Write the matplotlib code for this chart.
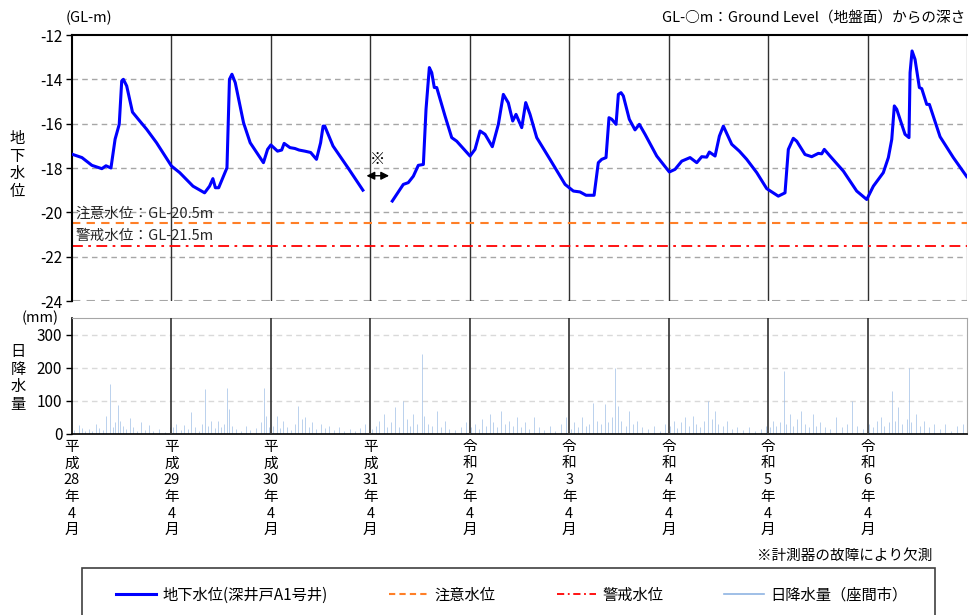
import numpy as np
import matplotlib
matplotlib.use('Agg')
import matplotlib.pyplot as plt
from matplotlib.lines import Line2D
from matplotlib.patches import Rectangle

plt.rcParams['font.family'] = ['Noto Sans CJK JP', 'DejaVu Sans']
plt.rcParams['axes.unicode_minus'] = False

# 経過月 (平成28年4月 = 0)
lvl_month_a = [0.1, 1.2, 2.4, 3.6, 4.1, 4.7, 5.2, 5.7, 6.0, 6.2, 6.6, 7.3, 8.0, 9.0, 10.2,
               12.0, 13.0, 14.6, 16.0, 16.6, 17.0, 17.3, 17.7, 18.7, 19.0, 19.3, 19.7,
               20.7, 21.5, 23.1, 23.6, 24.0, 24.4, 24.8, 25.3, 25.6, 26.3, 26.9, 27.4,
               28.1, 28.8, 29.5, 30.0, 30.3, 30.5, 31.5, 33.3, 35.1]
lvl_a = [-17.39, -17.53, -17.88, -18.03, -17.90, -18.00, -16.70, -16.03, -14.07, -14.00,
         -14.30, -15.48, -15.80, -16.25, -16.86, -17.91, -18.21, -18.82, -19.12, -18.82,
         -18.48, -18.89, -18.89, -17.99, -14.00, -13.77, -14.15, -15.96, -16.86, -17.76,
         -17.16, -16.96, -17.10, -17.24, -17.19, -16.89, -17.08, -17.12, -17.19, -17.24,
         -17.30, -17.61, -16.86, -16.11, -16.11, -17.01, -17.99, -19.00]

lvl_month_b = [38.65, 39.98, 40.58, 41.19, 41.79, 42.40, 42.72, 43.12, 43.41, 43.72, 44.01,
               45.01, 45.82, 46.42, 48.03, 48.63, 49.24, 49.84, 50.72, 51.45, 52.05, 52.65,
               53.18, 53.58, 54.27, 54.75, 55.27, 56.08, 57.68, 59.50, 60.50, 61.30, 62.03,
               63.00, 63.51, 63.92, 64.44, 64.80, 65.13, 65.65, 65.93, 66.25, 66.53, 67.25,
               67.94, 68.46, 69.15, 70.56, 72.08, 72.77, 73.58, 74.58, 75.39, 75.99, 76.59,
               76.91, 77.60, 78.12, 78.60, 79.61, 80.53, 81.42, 82.63, 83.83, 85.23, 86.04,
               86.44, 87.04, 87.45, 88.45, 89.26, 90.06, 90.47, 90.78, 91.47, 93.08, 94.69,
               95.90, 96.70, 97.90, 98.51, 98.92, 99.23, 99.52, 100.52, 101.00, 101.13,
               101.37, 101.73, 102.25, 102.54, 103.14, 103.46, 104.75, 106.35, 107.97]
lvl_b = [-19.49, -18.74, -18.66, -18.37, -17.88, -17.84, -15.35, -13.47, -13.70, -14.37,
         -14.37, -15.65, -16.63, -16.79, -17.46, -17.16, -16.33, -16.48, -17.04, -16.03,
         -14.68, -15.06, -15.88, -15.58, -16.18, -15.05, -15.58, -16.63, -17.61, -18.74,
         -19.04, -19.08, -19.23, -19.23, -17.76, -17.61, -17.53, -15.73, -15.80, -16.03,
         -14.68, -14.60, -14.75, -15.80, -16.28, -16.03, -16.48, -17.46, -18.18, -18.06,
         -17.69, -17.53, -17.76, -17.49, -17.51, -17.28, -17.46, -16.56, -16.11, -16.93,
         -17.24, -17.61, -18.21, -18.93, -19.27, -19.12, -17.16, -16.66, -16.79, -17.39,
         -17.49, -17.34, -17.36, -17.16, -17.46, -18.14, -19.04, -19.42, -18.82, -18.21,
         -17.53, -16.71, -15.20, -15.35, -16.48, -16.63, -13.70, -12.72, -13.10, -14.37,
         -14.42, -15.13, -15.13, -16.59, -17.53, -18.39]

rain_month = [0.3, 0.8, 1.2, 1.6, 2.0, 2.4, 2.9, 3.3, 3.7, 4.1, 4.6, 4.9, 5.2, 5.5, 5.8, 6.1,
              6.5, 7.0, 7.4, 7.9, 8.3, 8.8, 9.3, 9.8, 10.5, 11.2, 11.8,
              12.2, 12.6, 13.1, 13.5, 14.0, 14.4, 14.9, 15.3, 15.7, 16.0, 16.4, 16.8, 17.2,
              17.6, 18.0, 18.4, 18.7, 18.9, 19.3, 19.8, 20.4, 21.0, 21.5, 22.2, 22.8, 23.2,
              23.4, 23.8,
              24.3, 24.7, 25.1, 25.5, 26.0, 26.4, 26.9, 27.3, 27.7, 28.1, 28.6, 29.0, 29.5,
              30.0, 30.5, 31.0, 31.6, 32.2, 32.8, 33.5, 34.2, 34.8, 35.4,
              36.2, 36.7, 37.1, 37.6, 38.0, 38.5, 39.0, 39.4, 40.0, 40.4, 40.8, 41.2, 41.6,
              42.2, 42.5, 42.9, 43.4, 44.0, 44.5, 45.0, 45.5, 46.2, 46.9, 47.5,
              48.2, 48.6, 49.1, 49.5, 50.0, 50.4, 50.8, 51.3, 51.8, 52.2, 52.7, 53.2, 53.7,
              54.2, 54.7, 55.2, 55.8, 56.4, 57.0, 57.7, 58.3, 59.0, 59.6,
              60.2, 60.6, 61.0, 61.5, 62.0, 62.4, 62.9, 63.3, 63.8, 64.3, 64.7, 65.2, 65.5,
              65.9, 66.3, 66.8, 67.2, 67.7, 68.2, 68.8, 69.5, 70.2, 70.9, 71.5,
              72.2, 72.6, 73.0, 73.5, 74.0, 74.4, 74.9, 75.3, 75.8, 76.3, 76.8, 77.2, 77.6,
              78.0, 78.5, 79.0, 79.6, 80.3, 81.0, 81.7, 82.4, 83.1, 83.7,
              84.2, 84.6, 85.0, 85.4, 85.9, 86.2, 86.6, 87.0, 87.5, 88.0, 88.4, 88.9, 89.4,
              89.8, 90.3, 90.9, 91.5, 92.2, 92.9, 93.5, 94.1, 94.7, 95.4,
              96.2, 96.6, 97.1, 97.6, 98.0, 98.6, 99.0, 99.3, 99.7, 100.2, 100.7, 101.0,
              101.3, 101.8, 102.3, 102.8, 103.4, 104.0, 104.7, 105.4, 106.1, 106.8, 107.5]
rain_mm = [12, 28, 18, 8, 15, 10, 30, 18, 12, 55, 150, 22, 35, 88, 40, 25,
           15, 48, 20, 10, 35, 12, 28, 8, 15, 6, 20,
           20, 30, 12, 28, 15, 65, 22, 10, 30, 135, 25, 40, 18,
           38, 22, 30, 140, 75, 25, 15, 10, 25, 12, 18, 35, 140,
           55, 20,
           25, 55, 18, 40, 22, 12, 30, 85, 45, 50, 20, 35, 15,
           30, 18, 25, 12, 20, 10, 15, 8, 18, 30,
           15, 25, 40, 60, 20, 35, 80, 20, 100, 45, 25, 60, 30,
           240, 55, 30, 25, 70, 20, 40, 15, 12, 20, 35,
           20, 30, 15, 45, 25, 60, 35, 20, 70, 30, 40, 25, 50,
           20, 35, 15, 50, 20, 12, 25, 10, 30, 50,
           15, 35, 20, 50, 25, 30, 95, 40, 30, 90, 35, 50, 200,
           85, 40, 25, 70, 30, 40, 20, 15, 25, 10, 30,
           25, 40, 18, 35, 50, 25, 55, 30, 20, 40, 100, 45, 70,
           30, 25, 40, 15, 20, 12, 20, 8, 15, 25,
           20, 40, 25, 35, 190, 30, 60, 25, 45, 70, 30, 20, 60,
           25, 35, 20, 15, 50, 20, 30, 100, 25, 15,
           30, 20, 40, 50, 25, 35, 130, 40, 80, 30, 45, 200,
           35, 60, 25, 40, 20, 30, 15, 30, 10, 25, 30]

year_labels = ['平\n成\n28\n年\n4\n月', '平\n成\n29\n年\n4\n月', '平\n成\n30\n年\n4\n月',
               '平\n成\n31\n年\n4\n月', '令\n和\n2\n年\n4\n月', '令\n和\n3\n年\n4\n月',
               '令\n和\n4\n年\n4\n月', '令\n和\n5\n年\n4\n月', '令\n和\n6\n年\n4\n月']
caution_level = -20.5
warning_level = -21.5

W, H = 970, 615
fig = plt.figure(figsize=(W / 100, H / 100), dpi=100)

def fx(px):
    return px / W

def fy(py):
    return 1 - py / H

ax = fig.add_axes([fx(72), fy(301), fx(967 - 72), (301 - 35) / H])
ax2 = fig.add_axes([fx(72), fy(434), fx(967 - 72), (434 - 318) / H])

xmax = 108
year_pos = np.arange(0, xmax, 12)

# --- groundwater panel ---
ax.set_xlim(0, xmax)
ax.set_ylim(-24, -12)
ax.set_yticks(np.arange(-24, -11, 2))
ax.set_yticklabels([str(v) for v in range(-24, -11, 2)], fontsize=11)
for v in range(-22, -12, 2):
    ax.axhline(v, color='#a6a6a6', lw=1, ls=(0, (4, 3)), zorder=1)
ax.axhline(-24, color='#a6a6a6', lw=1.5, ls=(0, (4, 3)), zorder=1)
for p in year_pos[1:]:
    ax.axvline(p, color='#303030', lw=1, zorder=1)
ax.set_xticks([])
for s in ['right', 'bottom']:
    ax.spines[s].set_visible(False)
ax.spines['top'].set_color('black')
ax.spines['left'].set_color('black')
ax.spines['left'].set_linewidth(1.5)
ax.spines['top'].set_linewidth(1.5)
ax.axvline(xmax, color='#a6a6a6', lw=1, zorder=1)
ax.tick_params(axis='y', length=4, width=1, pad=3)

ax.axhline(caution_level, color='#ff7f27', lw=1.5, ls=(0, (4, 3)), zorder=2)
ax.axhline(warning_level, color='#ff0000', lw=1.3, ls=(0, (6, 3, 1.5, 3)), zorder=2)
ax.plot(lvl_month_a, lvl_a, color='#0000ff', lw=2.2, zorder=3)
ax.plot(lvl_month_b, lvl_b, color='#0000ff', lw=2.2, zorder=3)

ax.text(0.4, -20.05, '注意水位：GL-20.5m', fontsize=10.5, va='center', ha='left', color='#262626')
ax.text(0.4, -21.05, '警戒水位：GL-21.5m', fontsize=10.5, va='center', ha='left', color='#262626')

ax.annotate('', xy=(35.2, -18.35), xytext=(38.6, -18.35),
            arrowprops=dict(arrowstyle='<|-|>', color='black', lw=1, mutation_scale=12))
ax.text(36.9, -17.6, '※', fontsize=11, ha='center', va='center')

# --- rainfall panel ---
ax2.set_xlim(0, xmax)
ax2.set_ylim(0, 350)
ax2.set_yticks([0, 100, 200, 300])
ax2.set_yticklabels(['0', '100', '200', '300'], fontsize=11)
for v in [100, 200, 300]:
    ax2.axhline(v, color='#d9d9d9', lw=1, ls=(0, (4, 3)), zorder=1)
ax2.vlines(rain_month, 0, rain_mm, color='#9dbde6', lw=0.7, alpha=0.7, zorder=2)
for p in year_pos[1:]:
    ax2.axvline(p, color='#303030', lw=1.2, zorder=3)
for s in ['top', 'right']:
    ax2.spines[s].set_color('#a6a6a6')
ax2.spines['left'].set_color('black')
ax2.spines['bottom'].set_color('black')
ax2.spines['left'].set_linewidth(1.2)
ax2.spines['bottom'].set_linewidth(1.2)
ax2.set_xticks(year_pos)
ax2.set_xticklabels(year_labels, fontsize=10.5, linespacing=1.25, va='top')
ax2.tick_params(axis='x', length=0, pad=4)
ax2.tick_params(axis='y', length=4, width=1, pad=3)

# --- texts ---
fig.text(fx(66), fy(18), '(GL-m)', fontsize=10.5, ha='left', va='center')
fig.text(fx(965), fy(18), 'GL-○m：Ground Level（地盤面）からの深さ', fontsize=10.5,
         ha='right', va='center')
fig.text(fx(17), fy(165), '地\n下\n水\n位', fontsize=11, ha='center', va='center', linespacing=1.05)
fig.text(fx(18), fy(378), '日\n降\n水\n量', fontsize=11, ha='center', va='center', linespacing=1.05)
fig.text(fx(40), fy(318), '(mm)', fontsize=10.5, ha='center', va='center')
fig.text(fx(932), fy(556), '※計測器の故障により欠測', fontsize=10.5, ha='right', va='center')

# --- legend ---
fig.patches.append(Rectangle((fx(82), fy(625)), fx(935 - 82), (625 - 568) / H,
                             transform=fig.transFigure, fill=False, edgecolor='#404040',
                             lw=1.2))
handles = [Line2D([], [], color='#0000ff', lw=2.2),
           Line2D([], [], color='#ff7f27', lw=1.5, ls=(0, (3, 2))),
           Line2D([], [], color='#ff0000', lw=1.3, ls=(0, (4, 2, 1, 2))),
           Line2D([], [], color='#8fb4e3', lw=1.2)]
labels = ['地下水位(深井戸A1号井)', '注意水位', '警戒水位', '日降水量（座間市）']
fig.legend(handles, labels, loc='center', bbox_to_anchor=(fx(512), fy(595)), ncol=4,
           frameon=False, fontsize=11, columnspacing=4.0, handlelength=2.6,
           handletextpad=0.4)

fig.savefig('out.png', dpi=100)
